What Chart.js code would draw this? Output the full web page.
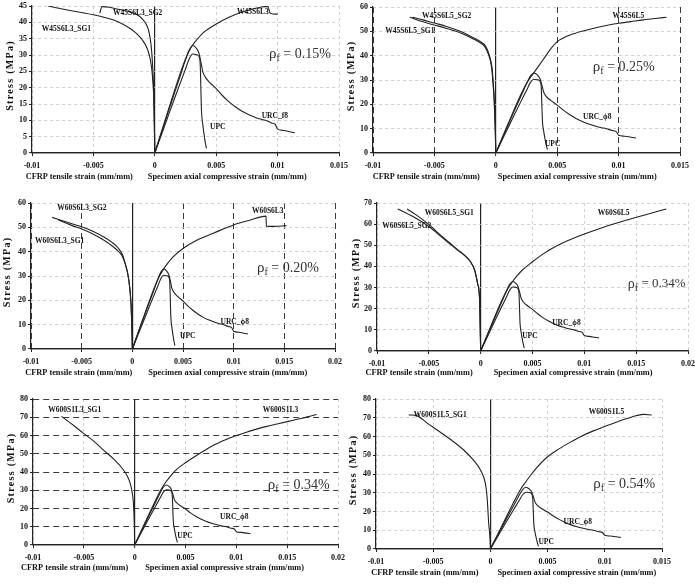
<!DOCTYPE html>
<html>
<head>
<meta charset="utf-8">
<script src="https://cdn.jsdelivr.net/npm/chart.js@4.4.0/dist/chart.umd.min.js"></script>
<style>
    body { margin: 0; background: #fff; }
    #wrap { position: relative; width: 695px; height: 584px; overflow: hidden; }
    canvas { position: absolute; }
</style>
</head>
<body>
<div id="wrap"></div>
<script>
// reference curves, same in every panel
const urcStrain = [0, 0.0005, 0.001, 0.0015, 0.002, 0.0025, 0.0028, 0.0031, 0.0034, 0.0036, 0.0038, 0.0039, 0.0041, 0.0045, 0.005, 0.0055, 0.006, 0.0065, 0.007, 0.0075, 0.008, 0.0085, 0.009, 0.0095, 0.0098, 0.01, 0.0105, 0.011, 0.0114];
const urcStress = [0, 5.8, 11.5, 17.2, 22.8, 28.5, 31.5, 32.9, 32, 30.5, 27, 25, 23.3, 21.5, 19.7, 17.6, 15.8, 14.3, 13, 12, 11.2, 10.5, 10, 9.2, 8.8, 7.3, 6.9, 6.5, 6.2];
const upcStrain = [0, 0.0005, 0.001, 0.0015, 0.002, 0.0025, 0.0028, 0.0031, 0.0034, 0.0036, 0.0037, 0.00375, 0.0038, 0.0039, 0.004, 0.0041, 0.0042];
const upcStress = [0, 5.2, 10.4, 15.6, 20.7, 25.7, 28.8, 30.3, 30.1, 29.5, 27, 20, 13, 9, 6, 3.5, 1.4];

// panel 1  W45S6L3
const p1SpecStrain = [0, 0.001, 0.002, 0.0025, 0.003, 0.0035, 0.004, 0.005, 0.006, 0.007, 0.008, 0.0086, 0.0092, 0.0094, 0.01];
const p1SpecStress = [0, 12, 23.6, 28.8, 32.6, 35, 37, 39.5, 41.5, 43, 44.1, 44.6, 44.9, 42.8, 42.5];
const p1Sg1Strain = [0, -0.00002, -0.00008, -0.00015, -0.00027, -0.00045, -0.00068, -0.001, -0.0015, -0.002, -0.003, -0.004, -0.005, -0.006, -0.007, -0.0087];
const p1Sg1Stress = [0, 5, 16.2, 21.5, 26.4, 30, 32.5, 34.5, 36.6, 38.1, 40.2, 41.4, 42.3, 43, 43.7, 45];
const p1Sg2Strain = [0, -0.00004, -0.0001, -0.00018, -0.0003, -0.0005, -0.0008, -0.0013, -0.002, -0.003, -0.0037, -0.0043, -0.00448];
const p1Sg2Stress = [0, 10, 20, 27, 33, 37.5, 40, 42, 43.2, 44, 44.6, 44.8, 42.8];

// panel 2  W45S6L5
const p2SpecStrain = [0, 0.001, 0.002, 0.0025, 0.003, 0.0035, 0.004, 0.0045, 0.005, 0.0055, 0.006, 0.007, 0.008, 0.009, 0.01, 0.011, 0.012, 0.013, 0.0139];
const p2SpecStress = [0, 12, 23.6, 28.6, 32.3, 35.8, 39.4, 43, 45.8, 47.3, 48.4, 50, 51.3, 52.4, 53.3, 54, 54.7, 55.3, 55.8];
const p2Sg1Strain = [0, -0.00005, -0.00014, -0.00025, -0.00035, -0.0006, -0.0009, -0.0015, -0.002, -0.0028, -0.004, -0.005, -0.006, -0.007];
const p2Sg1Stress = [0, 10, 21.8, 30, 35.5, 40.5, 43.7, 46, 47.3, 49.2, 51.2, 52.6, 54, 55.8];
const p2Sg2Strain = [0, -0.00004, -0.00012, -0.00022, -0.00032, -0.00055, -0.0008, -0.0014, -0.002, -0.0028, -0.004, -0.005, -0.006, -0.0068];
const p2Sg2Stress = [0, 10, 21.8, 30, 35.5, 40.5, 43.7, 46.2, 47.8, 49.8, 52, 53.4, 54.8, 55.8];

// panel 3  W60S6L3
const p3SpecStrain = [0, 0.001, 0.002, 0.0025, 0.003, 0.0035, 0.004, 0.005, 0.0064, 0.008, 0.01, 0.0115, 0.0132, 0.01322, 0.014, 0.0152];
const p3SpecStress = [0, 11.8, 23.3, 28.5, 32.3, 35.3, 37.8, 41.3, 44.8, 47.6, 51, 52.8, 54.6, 50.5, 50.4, 50.7];
const p3Sg1Strain = [0, -0.00006, -0.00015, -0.0004, -0.0007, -0.00105, -0.0016, -0.0022, -0.003, -0.004, -0.005, -0.006, -0.0073];
const p3Sg1Stress = [0, 10.6, 20, 29.7, 35, 38.5, 41, 43, 45.2, 47.5, 49.3, 50.8, 53];
const p3Sg2Strain = [0, -0.00006, -0.00015, -0.0004, -0.0007, -0.00095, -0.0014, -0.002, -0.0028, -0.0038, -0.005, -0.0065, -0.0079];
const p3Sg2Stress = [0, 10.6, 20, 29.7, 35, 38.5, 41.5, 43.8, 46, 48.2, 50.2, 52.2, 54.1];

// panel 4  W60S6L5
const p4SpecStrain = [0, 0.001, 0.002, 0.0025, 0.003, 0.0035, 0.004, 0.005, 0.006, 0.007, 0.008, 0.01, 0.012, 0.014, 0.016, 0.0179];
const p4SpecStress = [0, 12, 23.5, 28.5, 32.3, 35.5, 38.2, 42.2, 45.8, 48.8, 51.3, 55.3, 58.8, 61.8, 64.6, 67.2];
const p4Sg1Strain = [0, -0.00005, -0.0001, -0.0003, -0.00058, -0.001, -0.0015, -0.00219, -0.003, -0.004, -0.00475, -0.0055, -0.0063, -0.0071];
const p4Sg1Stress = [0, 12, 24, 32, 38.3, 42.3, 45, 47.8, 51.2, 55.4, 58.8, 61.8, 64.6, 67.2];
const p4Sg2Strain = [0, -0.00005, -0.0001, -0.0003, -0.00058, -0.001, -0.0015, -0.0022, -0.003, -0.004, -0.0048, -0.0058, -0.0069, -0.008];
const p4Sg2Stress = [0, 12, 24, 32, 38.3, 42.3, 45, 47.6, 50.8, 54.8, 58.2, 61.5, 64.5, 67.2];

// panel 5  W600S1L3
const p5SpecStrain = [0, 0.001, 0.002, 0.0025, 0.003, 0.0035, 0.004, 0.005, 0.006, 0.007, 0.008, 0.009, 0.01, 0.011, 0.012, 0.013, 0.014, 0.015, 0.016, 0.017, 0.0179];
const p5SpecStress = [0, 12, 23.8, 29.5, 34, 37.6, 40.8, 45.1, 48.8, 52.2, 55.3, 57.8, 60, 61.8, 63.5, 65, 66.3, 67.6, 68.9, 70.2, 71.5];
const p5Sg1Strain = [0, -0.00003, -0.00012, -0.00025, -0.00044, -0.0007, -0.0011, -0.002, -0.00307, -0.004, -0.00503, -0.006, -0.0072];
const p5Sg1Stress = [0, 10, 22.8, 29, 33.8, 37.5, 41.1, 46.8, 52, 56.8, 61.2, 65.5, 70.5];

// panel 6  W600S1L5
const p6SpecStrain = [0, 0.001, 0.002, 0.0026, 0.003, 0.0035, 0.004, 0.005, 0.006, 0.007, 0.008, 0.009, 0.01, 0.011, 0.012, 0.0128, 0.0134, 0.0141];
const p6SpecStress = [0, 12.3, 24.5, 31.5, 35, 39.2, 43, 49.2, 53.4, 57, 60.3, 63, 65.3, 67.6, 69.7, 71.2, 71.8, 71.5];
const p6Sg1Strain = [0, -0.00005, -0.00015, -0.00022, -0.00029, -0.00044, -0.00087, -0.0015, -0.00233, -0.0035, -0.00466, -0.0055, -0.0064, -0.00714];
const p6Sg1Stress = [0, 7, 13.7, 21, 27.9, 35, 42.1, 47.5, 52.8, 58.5, 63.5, 67, 71, 71.5];

const rhoValues = ['0.15%', '0.25%', '0.20%', '0.34%', '0.34%', '0.54%'];

// curve labels: text, strain, stress of the label anchor
const p1Labels = [['W45S6L3_SG2', -0.0034, 42.9], ['W45S6L3_SG1', -0.0092, 37.9], ['W45S6L3', 0.0067, 43], ['URC_f8', 0.0087, 11.3], ['UPC', 0.0045, 8]];
const p2Labels = [['W45S6L5_SG2', -0.006, 56.4], ['W45S6L5_SG1', -0.009, 50.3], ['W45S6L5', 0.0095, 56.4], ['URC_ϕ8', 0.0071, 14.7], ['UPC', 0.004, 3.7]];
const p3Labels = [['W60S6L3_SG2', -0.0074, 57.8], ['W60S6L3_SG1', -0.0096, 44.4], ['W60S6L3', 0.0118, 56.8], ['URC_ϕ8', 0.0087, 11.2], ['UPC', 0.0047, 5.5]];
const p4Labels = [['W60S6L5_SG1', -0.0054, 65.4], ['W60S6L5_SG2', -0.0095, 59.1], ['W60S6L5', 0.0113, 65.4], ['URC_ϕ8', 0.0069, 13.4], ['UPC', 0.004, 7.2]];
const p5Labels = [['W600S1L3_SG1', -0.0085, 74], ['W600S1L3', 0.0126, 74], ['URC_ϕ8', 0.0084, 15.5], ['UPC', 0.0042, 5.1]];
const p6Labels = [['W600S1L5_SG1', -0.0067, 71.5], ['W600S1L5', 0.0086, 73.2], ['URC_ϕ8', 0.0064, 14.6], ['UPC', 0.0042, 3.9]];

const SERIF = '"Liberation Serif", "Times New Roman", serif';

function pts(xs, ys) {
    return xs.map((x, i) => ({x: x, y: ys[i]}));
}

const isZero = c => c.tick && Math.abs(c.tick.value) < 1e-9;

function grid(dark) {
    return {
        color: c => isZero(c) ? '#222' : (dark ? '#3a3a3a' : '#c4c4c4'),
        lineWidth: c => isZero(c) ? 1.2 : (dark ? 1 : 0.8),
        tickColor: '#222',
        tickLength: 3,
        tickWidth: 1
    };
}

function border(dark) {
    return {
        display: true,
        color: '#222',
        width: 1.2,
        dash: c => isZero(c) || !c.tick ? [] : (dark ? [6, 4] : [3, 3])
    };
}

const panelText = {
    id: 'panelText',
    afterDraw(chart, args, o) {
        const {ctx, chartArea: a} = chart;
        const sx = chart.scales.x, sy = chart.scales.y;
        ctx.save();
        ctx.fillStyle = '#111';
        ctx.textBaseline = 'middle';
        ctx.textAlign = 'left';
        ctx.font = 'bold 7.5px ' + SERIF;
        o.labels.forEach(l => ctx.fillText(l[0], sx.getPixelForValue(l[1]), sy.getPixelForValue(l[2])));

        // rho_f annotation
        let rx = sx.getPixelForValue(o.rho[0]);
        const ry = sy.getPixelForValue(o.rho[1]);
        ctx.fillStyle = '#333';
        ctx.font = o.rhoSize + 'px ' + SERIF;
        ctx.fillText('ρ', rx, ry);
        rx += ctx.measureText('ρ').width;
        ctx.font = '10px ' + SERIF;
        ctx.fillText('f', rx, ry + 4);
        rx += ctx.measureText('f').width;
        ctx.font = (o.rhoSize - 1) + 'px ' + SERIF;
        ctx.fillText(' = ' + o.rhoText, rx, ry);

        // x titles
        ctx.fillStyle = '#111';
        const zero = sx.getPixelForValue(0);
        ctx.font = 'bold 8.3px ' + SERIF;
        ctx.textAlign = 'right';
        ctx.fillText('CFRP tensile strain (mm/mm)', zero + o.cfrpOff, a.bottom + o.titleGap);
        ctx.textAlign = 'left';
        ctx.fillText('Specimen axial compressive strain (mm/mm)', zero + o.specOff, a.bottom + o.titleGap);

        // y title
        ctx.translate(o.yTitleX, (a.top + a.bottom) / 2 - 4);
        ctx.rotate(-Math.PI / 2);
        ctx.textAlign = 'center';
        ctx.font = 'bold 10px ' + SERIF;
        ctx.letterSpacing = '1.3px';
        ctx.fillText('Stress (MPa)', 0, 0);
        ctx.restore();
    }
};

const panels = [
    {left: 0, top: 0, w: 360, h: 190, yw: 32, padTop: 6, right: 339, bottom: 153, xMax: 0.015, yMax: 45, yStep: 5,
     xDark: false, yDark: false, titleGap: 24, cfrpOff: -22, specOff: -7, yTitleX: 10, rho: [0.0093, 30.3], rhoSize: 15,
     curves: [[urcStrain, urcStress], [upcStrain, upcStress], [p1SpecStrain, p1SpecStress], [p1Sg1Strain, p1Sg1Stress], [p1Sg2Strain, p1Sg2Stress]], labels: p1Labels},
    {left: 345, top: 0, w: 350, h: 190, yw: 28, padTop: 7, right: 680, bottom: 153, xMax: 0.015, yMax: 60, yStep: 10,
     xDark: true, yDark: false, titleGap: 24, cfrpOff: -16, specOff: 2, yTitleX: 6, rho: [0.0079, 35.3], rhoSize: 15,
     curves: [[urcStrain, urcStress], [upcStrain, upcStress], [p2SpecStrain, p2SpecStress], [p2Sg1Strain, p2Sg1Stress], [p2Sg2Strain, p2Sg2Stress]], labels: p2Labels},
    {left: 0, top: 190, w: 360, h: 195, yw: 31, padTop: 13, right: 335, bottom: 349, xMax: 0.02, yMax: 60, yStep: 10,
     xDark: true, yDark: false, titleGap: 23.5, cfrpOff: 0, specOff: 16, yTitleX: 7.5, rho: [0.0123, 33.3], rhoSize: 15,
     curves: [[urcStrain, urcStress], [upcStrain, upcStress], [p3SpecStrain, p3SpecStress], [p3Sg1Strain, p3Sg1Stress], [p3Sg2Strain, p3Sg2Stress]], labels: p3Labels},
    {left: 345, top: 190, w: 350, h: 195, yw: 32, padTop: 13, right: 688, bottom: 351, xMax: 0.02, yMax: 70, yStep: 10,
     xDark: false, yDark: false, titleGap: 21.5, cfrpOff: -8, specOff: 13, yTitleX: 11.7, rho: [0.0142, 31.7], rhoSize: 14,
     curves: [[urcStrain, urcStress], [upcStrain, upcStress], [p4SpecStrain, p4SpecStress], [p4Sg1Strain, p4Sg1Stress], [p4Sg2Strain, p4Sg2Stress]], labels: p4Labels},
    {left: 0, top: 385, w: 360, h: 199, yw: 33, padTop: 14, right: 338, bottom: 545, xMax: 0.02, yMax: 80, yStep: 10,
     xDark: false, yDark: true, titleGap: 23, cfrpOff: -6.5, specOff: 10.5, yTitleX: 11.7, rho: [0.0131, 32.9], rhoSize: 15,
     curves: [[urcStrain, urcStress], [upcStrain, upcStress], [p5SpecStrain, p5SpecStress], [p5Sg1Strain, p5Sg1Stress]], labels: p5Labels},
    {left: 345, top: 385, w: 350, h: 199, yw: 31, padTop: 14, right: 662, bottom: 549, xMax: 0.015, yMax: 80, yStep: 10,
     xDark: false, yDark: false, titleGap: 23.5, cfrpOff: -12, specOff: 7, yTitleX: 8.3, rho: [0.009, 34.7], rhoSize: 15,
     curves: [[urcStrain, urcStress], [upcStrain, upcStress], [p6SpecStrain, p6SpecStress], [p6Sg1Strain, p6Sg1Stress]], labels: p6Labels}
];

const wrap = document.getElementById('wrap');

panels.forEach((p, n) => {
    const canvas = document.createElement('canvas');
    canvas.width = p.w;
    canvas.height = p.h;
    canvas.style.left = p.left + 'px';
    canvas.style.top = p.top + 'px';
    wrap.appendChild(canvas);

    const xh = p.top + p.h - p.bottom;
    const padRight = p.left + p.w - p.right;

    new Chart(canvas.getContext('2d'), {
        type: 'scatter',
        data: {
            datasets: p.curves.map(c => ({
                data: pts(c[0], c[1]),
                showLine: true,
                borderColor: '#222',
                borderWidth: 1.1,
                pointRadius: 0,
                cubicInterpolationMode: 'monotone',
                fill: false
            }))
        },
        options: {
            responsive: false,
            animation: false,
            devicePixelRatio: 1,
            layout: {padding: {left: 0, top: p.padTop, right: padRight, bottom: 0}},
            plugins: {
                legend: {display: false},
                tooltip: {enabled: false},
                panelText: {
                    labels: p.labels, rho: p.rho, rhoText: rhoValues[n], rhoSize: p.rhoSize,
                    titleGap: p.titleGap, cfrpOff: p.cfrpOff, specOff: p.specOff, yTitleX: p.yTitleX
                }
            },
            scales: {
                x: {
                    type: 'linear',
                    min: -0.01,
                    max: p.xMax,
                    afterFit: s => { s.height = xh; s.paddingLeft = 0; s.paddingRight = 0; },
                    grid: grid(p.xDark),
                    border: border(p.xDark),
                    ticks: {
                        stepSize: 0.005,
                        autoSkip: false,
                        maxRotation: 0,
                        minRotation: 0,
                        padding: 5,
                        color: '#111',
                        font: {family: SERIF, size: 8, weight: 'bold'},
                        callback: v => parseFloat(Number(v).toFixed(4)).toString()
                    }
                },
                y: {
                    min: 0,
                    max: p.yMax,
                    afterFit: s => { s.width = p.yw; s.paddingTop = 0; s.paddingBottom = 0; },
                    grid: grid(p.yDark),
                    border: border(p.yDark),
                    ticks: {
                        stepSize: p.yStep,
                        padding: 2,
                        color: '#111',
                        font: {family: SERIF, size: 8, weight: 'bold'}
                    }
                }
            }
        },
        plugins: [panelText]
    });
});
</script>
</body>
</html>
